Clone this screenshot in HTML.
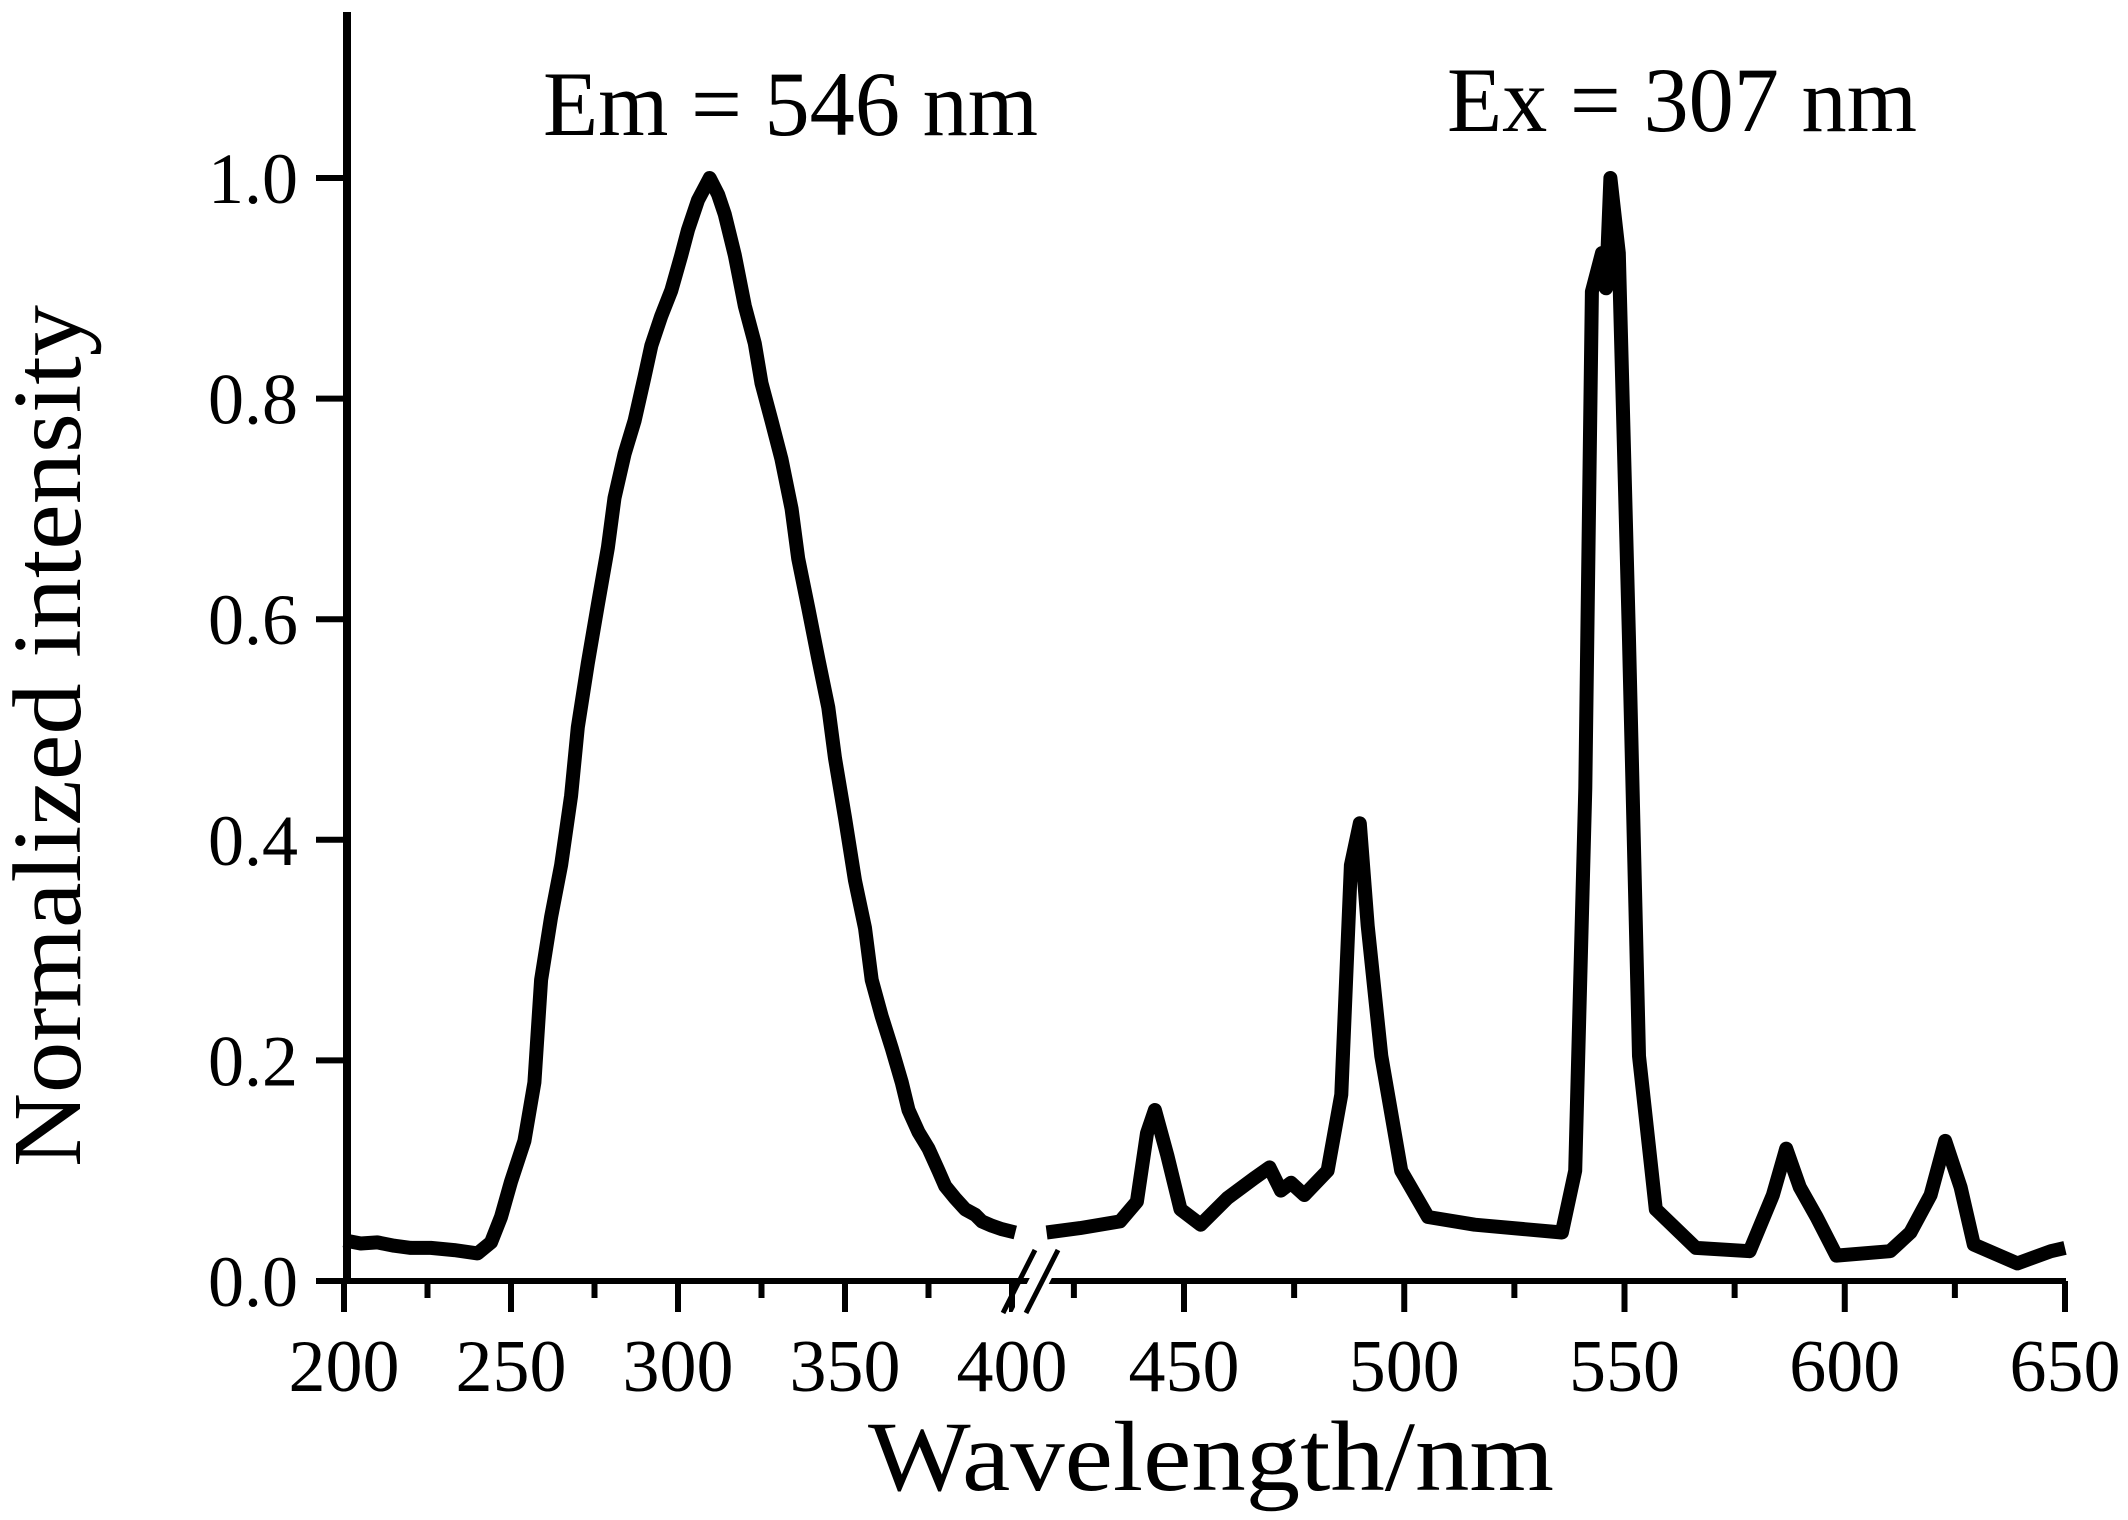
<!DOCTYPE html>
<html><head><meta charset="utf-8"><style>html,body{margin:0;padding:0;background:#fff}svg{display:block}</style></head>
<body>
<svg id="chart" width="2128" height="1520" viewBox="0 0 2128 1520" xmlns="http://www.w3.org/2000/svg" font-family="'Liberation Serif', serif">
<g id="axes"></g>
<g id="series"></g>
<text x="543" y="135" font-size="92" textLength="495" lengthAdjust="spacingAndGlyphs">Em = 546 nm</text>
<text x="1447" y="131" font-size="92" textLength="470" lengthAdjust="spacingAndGlyphs">Ex = 307 nm</text>
<text x="868" y="1490" font-size="100" textLength="686" lengthAdjust="spacingAndGlyphs">Wavelength/nm</text>
<text transform="translate(80,1167) rotate(-90)" font-size="98" textLength="862" lengthAdjust="spacingAndGlyphs">Normalized intensity</text>
</svg>
<script>
const exWavelengths = [200,205,210,215,220,226,233,240,244,247,250,254,257,259,262,265,268,270,273,276,279,281,284,287,290,292,295,298,301,303,306,309.5,312,314,317,320,323,325,328,331,334,336,339,342,345,347,350,353,356,358,361,364,367,369,372,375,378,380,383,386,389,391,394,397,401];
const exValues = [0.037,0.034,0.035,0.032,0.030,0.030,0.028,0.025,0.035,0.058,0.090,0.127,0.18,0.273,0.33,0.377,0.44,0.502,0.56,0.613,0.665,0.71,0.75,0.78,0.82,0.848,0.875,0.898,0.93,0.953,0.98,1.0,0.985,0.967,0.93,0.884,0.85,0.814,0.78,0.745,0.70,0.655,0.61,0.564,0.52,0.474,0.42,0.363,0.32,0.273,0.24,0.211,0.18,0.155,0.135,0.12,0.10,0.086,0.075,0.065,0.06,0.054,0.05,0.047,0.044];
const emWavelengths = [418.8,426.4,435.5,439.3,441.6,443.4,446.2,449.2,453.8,459.8,465.9,469.4,472,474.3,477.3,482.6,485.7,487.9,489.9,491.7,494.8,499.3,505.4,516,535.8,538.8,541.1,542.6,544.9,545.8,546.8,548.7,551,553.3,557.1,566.2,578.4,583.7,586.7,589.8,593.6,598.1,610.3,614.9,619.5,622.8,626.3,629.3,639.2,646.8,650];
const emValues = [0.044,0.048,0.054,0.072,0.134,0.155,0.114,0.065,0.051,0.075,0.093,0.103,0.082,0.089,0.078,0.10,0.169,0.377,0.415,0.322,0.204,0.10,0.058,0.051,0.044,0.10,0.447,0.897,0.932,0.90,1.0,0.932,0.585,0.204,0.065,0.030,0.027,0.078,0.12,0.085,0.058,0.023,0.027,0.044,0.078,0.127,0.085,0.033,0.016,0.027,0.030];
const yTicks = [0,0.2,0.4,0.6,0.8,1.0];
const yTickLabels = ["0.0","0.2","0.4","0.6","0.8","1.0"];
const xTicksLeft = [200,250,300,350,400];
const xTicksRight = [450,500,550,600,650];
const xMinorLeft = [225,275,325,375];
const xMinorRight = [425,475,525,575,625];

const NS = "http://www.w3.org/2000/svg";
const Y0 = 1281, Y1 = 178;
function yScale(v){ return Y0 - v*(Y0-Y1); }
function xScale(nm){ return nm <= 410 ? 344 + (nm-200)*3.34 : 1184 + (nm-450)*4.405; }
function mk(tag, attrs, parent){ const e=document.createElementNS(NS,tag); for(const k in attrs) e.setAttribute(k, attrs[k]); parent.appendChild(e); return e; }
const axes = document.getElementById('axes');
const series = document.getElementById('series');

// axes lines
let xa = mk('line',{x1:316,y1:Y0,x2:2066,y2:Y0,stroke:'#000','stroke-width':6},axes);


let ya = mk('line',{x1:347,y1:12,x2:347,y2:Y0+3,stroke:'#000','stroke-width':8},axes);



yTicks.forEach((v,i)=>{
  const y=yScale(v);
  const t=mk('line',{x1:316,y1:y,x2:347,y2:y,stroke:'#000','stroke-width':6},axes);
  
  
  const l=mk('text',{x:298,y:y+25,'font-size':72,'text-anchor':'end'},axes);
  
  
  l.textContent=yTickLabels[i];
});
xTicksLeft.concat(xTicksRight).forEach(nm=>{
  const x=xScale(nm);
  const t=mk('line',{x1:x,y1:Y0,x2:x,y2:Y0+31,stroke:'#000','stroke-width':6},axes);
  
  
  const l=mk('text',{x:x,y:1391,'font-size':74,'text-anchor':'middle'},axes);
  
  
  l.textContent=String(nm);
});
xMinorLeft.concat(xMinorRight).forEach(nm=>{
  const x=xScale(nm);
  const t=mk('line',{x1:x,y1:Y0,x2:x,y2:Y0+17,stroke:'#000','stroke-width':6},axes);
  
  
});
// axis break
let gap = mk('polygon',{points:'1012,1313 1034,1313 1066,1250 1044,1250',fill:'#fff'},axes);


[[1003,1313,1035,1250],[1026,1313,1058,1250]].forEach(s=>{
  const b=mk('line',{x1:s[0],y1:s[1],x2:s[2],y2:s[3],stroke:'#000','stroke-width':5},axes);
  
  
});

function drawLine(xs, vs, name){
  const d = xs.map((nm,i)=>(i?'L':'M')+xScale(nm).toFixed(1)+','+yScale(vs[i]).toFixed(1)).join(' ');
  const p = mk('path',{d:d,fill:'none',stroke:'#000','stroke-width':14,'stroke-linejoin':'round','stroke-linecap':'butt'},series);
  
  
}
drawLine(exWavelengths, exValues, 'excitation-spectrum-line');
drawLine(emWavelengths, emValues, 'emission-spectrum-line');
</script>
</body></html>
